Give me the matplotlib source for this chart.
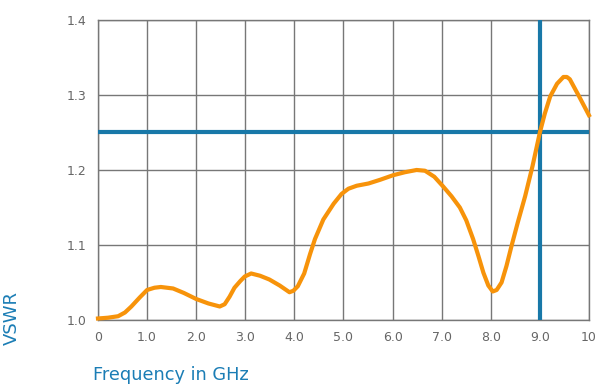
import numpy as np
import matplotlib.pyplot as plt

# values
freq = [0, 0.2, 0.41, 0.55, 0.68, 0.85, 1.0, 1.15, 1.28, 1.53, 1.75, 2.0, 2.25, 2.48, 2.58, 2.68, 2.78, 2.9,
        2.99, 3.12, 3.3, 3.49, 3.7, 3.9, 3.98, 4.07, 4.2, 4.32, 4.42, 4.59, 4.8, 4.96, 5.1, 5.27, 5.51, 5.75, 6.01,
        6.25, 6.49, 6.66, 6.85, 7.03, 7.2, 7.37, 7.5, 7.64, 7.75, 7.85, 7.95, 8.04, 8.12, 8.22, 8.32, 8.42,
        8.55, 8.70, 8.85, 9.0, 9.1, 9.21, 9.35, 9.48, 9.55, 9.61, 9.8, 10.0]
vswr = [1.002, 1.003, 1.005, 1.010, 1.018, 1.030, 1.040, 1.043, 1.044, 1.042, 1.036, 1.028, 1.022, 1.018,
        1.021, 1.031, 1.043, 1.052, 1.058, 1.062, 1.059, 1.054, 1.046, 1.037, 1.039, 1.045, 1.062, 1.088, 1.108,
        1.134, 1.155, 1.168, 1.175, 1.179, 1.182, 1.187, 1.193, 1.197, 1.200, 1.199, 1.191, 1.178, 1.165,
        1.150, 1.133, 1.108, 1.085, 1.063, 1.046, 1.038, 1.040, 1.050, 1.072, 1.098, 1.130, 1.165, 1.205,
        1.250, 1.275, 1.298, 1.315, 1.324, 1.324, 1.321, 1.298, 1.273]
limit_vswr = 1.25
limit_freq = 9.0
xticks = np.arange(0, 11, 1)
xlabels = ['0', '1.0', '2.0', '3.0', '4.0', '5.0', '6.0', '7.0', '8.0', '9.0', '10']
yticks = [1.0, 1.1, 1.2, 1.3, 1.4]

fig = plt.figure(figsize=(6, 3.88), dpi=100)
ax = fig.add_axes([0.1633, 0.1753, 0.8183, 0.7732])

ax.set_xlim(0, 10)
ax.set_ylim(1.0, 1.4)
ax.set_xticks(xticks)
ax.set_xticklabels(xlabels)
ax.set_yticks(yticks)
ax.set_yticklabels(['%.1f' % v for v in yticks])
ax.grid(True, color='#777777', linewidth=1.0)
ax.set_axisbelow(True)
for s in ax.spines.values():
    s.set_color('#777777')
    s.set_linewidth(1.0)
ax.tick_params(length=0, labelsize=9, colors='#666666', pad=8)

ax.axhline(limit_vswr, color='#1878a8', linewidth=3, zorder=3)
ax.axvline(limit_freq, color='#1878a8', linewidth=3, zorder=3)
ax.plot(freq, vswr, color='#f7930a', linewidth=3, solid_joinstyle='round', zorder=4, clip_on=False)

fig.text(12 / 600, 0.18, 'VSWR', rotation=90, color='#1b7db5', fontsize=13, ha='center', va='center')
fig.text(93 / 600, 0.034, 'Frequency in GHz', color='#1b7db5', fontsize=12.8, ha='left', va='center')

fig.savefig('out.png', dpi=100)
